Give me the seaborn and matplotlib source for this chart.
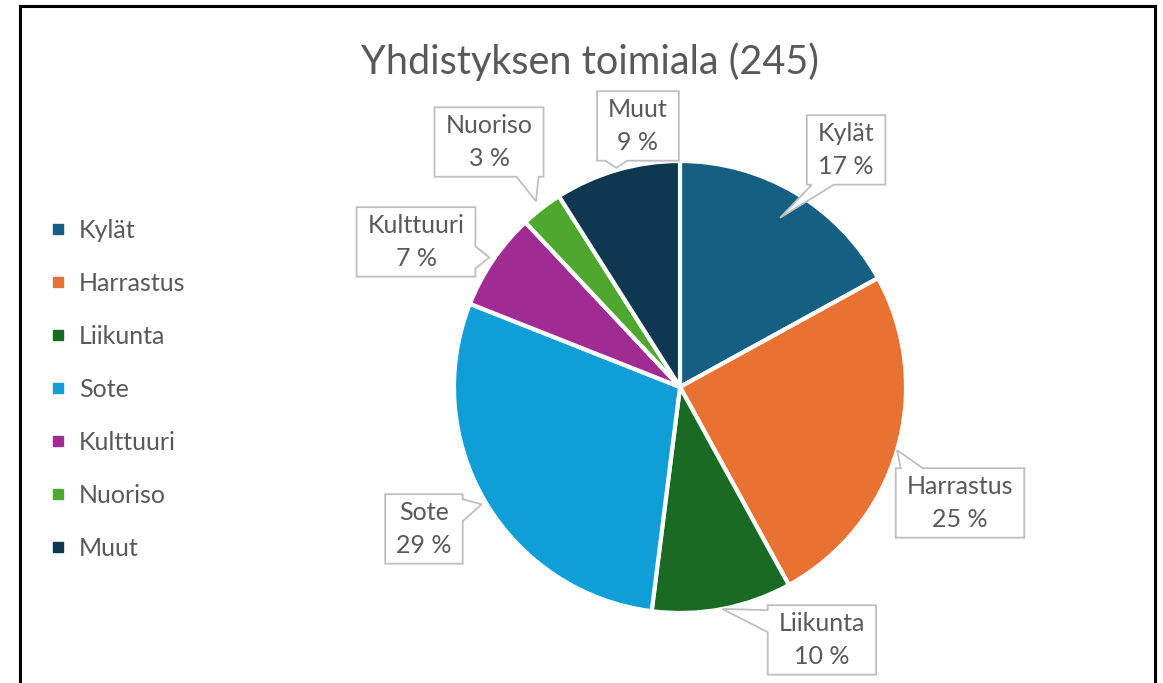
import matplotlib
matplotlib.use('Agg')
import matplotlib.pyplot as plt
import seaborn as sns
import numpy as np
from matplotlib.lines import Line2D
from matplotlib.patches import Rectangle, Polygon

# data
categories = ['Kylät', 'Harrastus', 'Liikunta', 'Sote', 'Kulttuuri', 'Nuoriso', 'Muut']
shares = [17, 25, 10, 29, 7, 3, 9]   # percent, total n = 245
title = 'Yhdistyksen toimiala (245)'

colors = ['#156082', '#E97132', '#196B24', '#0F9ED5', '#A02B93', '#4EA72E', '#0E3850']

sns.set_theme(style='white')
plt.rcParams['font.family'] = ['Lato', 'DejaVu Sans']
text_grey = '#595959'
box_grey = '#bfbfbf'

W, H = 1163, 683
fig = plt.figure(figsize=(W / 100, H / 100), dpi=100)

# pie axes: centre (680, 387) px, radius 226 px
cx, cy, r = 680, 387, 226
ax = fig.add_axes([(cx - r) / W, (H - cy - r) / H, 2 * r / W, 2 * r / H])
wedges, _ = ax.pie(shares, colors=colors, startangle=90, counterclock=False,
                   radius=1, wedgeprops=dict(edgecolor='white', linewidth=3))
ax.set_xlim(-1, 1)
ax.set_ylim(-1, 1)
ax.set_aspect('equal')
ax.axis('off')

# callout label positions (axes units) and pointer radius
label_pos = [(0.735, 1.049), (1.239, -0.513), (0.628, -1.119), (-1.133, -0.628),
             (-1.168, 0.642), (-0.845, 1.084), (-0.186, 1.155)]
tip_r = [0.87, 1.0, 1.0, 1.02, 1.02, 1.04, 1.01]

texts = []
for name, val, pos in zip(categories, shares, label_pos):
    t = ax.text(pos[0], pos[1], f'{name}\n{val} %', ha='center', va='center',
                fontsize=18, color=text_grey, linespacing=1.5, zorder=6,
                clip_on=False)
    texts.append(t)

fig.canvas.draw()
renderer = fig.canvas.get_renderer()


def callout(bb, tip, pad_x=11, pad_y=7, base_w=22, margin=5):
    x0, x1 = bb.x0 - pad_x, bb.x1 + pad_x
    y0, y1 = bb.y0 - pad_y, bb.y1 + pad_y
    mx, my = (x0 + x1) / 2, (y0 + y1) / 2
    dx = (tip[0] - mx) / ((x1 - x0) / 2)
    dy = (tip[1] - my) / ((y1 - y0) / 2)

    def base(lo, hi, c):
        b0 = np.clip(c - base_w / 2, lo + margin, hi - margin - base_w)
        return b0, b0 + base_w

    if abs(dy) > abs(dx):
        b0, b1 = base(x0, x1, tip[0])
        if dy < 0:   # bottom edge
            pts = [(x0, y0), (b0, y0), tip, (b1, y0), (x1, y0), (x1, y1), (x0, y1)]
        else:        # top edge
            pts = [(x0, y0), (x1, y0), (x1, y1), (b1, y1), tip, (b0, y1), (x0, y1)]
    else:
        b0, b1 = base(y0, y1, tip[1])
        if dx > 0:   # right edge
            pts = [(x0, y0), (x1, y0), (x1, b0), tip, (x1, b1), (x1, y1), (x0, y1)]
        else:        # left edge
            pts = [(x0, y0), (x1, y0), (x1, y1), (x0, y1), (x0, b1), tip, (x0, b0)]
    return pts


to_fig = fig.transFigure.inverted()
for w, t, tr in zip(wedges, texts, tip_r):
    mid = np.deg2rad((w.theta1 + w.theta2) / 2)
    tip = ax.transData.transform((tr * np.cos(mid), tr * np.sin(mid)))
    bb = t.get_window_extent(renderer)
    pts = to_fig.transform(callout(bb, tuple(tip)))
    ax.add_patch(Polygon(pts, closed=True, transform=fig.transFigure,
                         fc='white', ec=box_grey, lw=1.3, zorder=5,
                         clip_on=False))

fig.text(590 / W, 1 - 62 / H, title, ha='center', va='center',
         fontsize=28.5, color=text_grey)

handles = [Line2D([], [], marker='s', ls='', color=c, markersize=7) for c in colors]
fig.legend(handles, categories, loc='upper left',
           bbox_to_anchor=(40 / W, 1 - 209 / H), frameon=False,
           fontsize=18, labelcolor=text_grey, handlelength=0.6,
           handletextpad=0.55, labelspacing=1.2, borderaxespad=0)

# outer frame
fig.add_artist(Rectangle((20 / W, -0.1), (1155 - 20) / W, 1.1 - 6 / H,
                         transform=fig.transFigure, fill=False,
                         ec='black', lw=2.2))

fig.savefig('out.png', dpi=100)
